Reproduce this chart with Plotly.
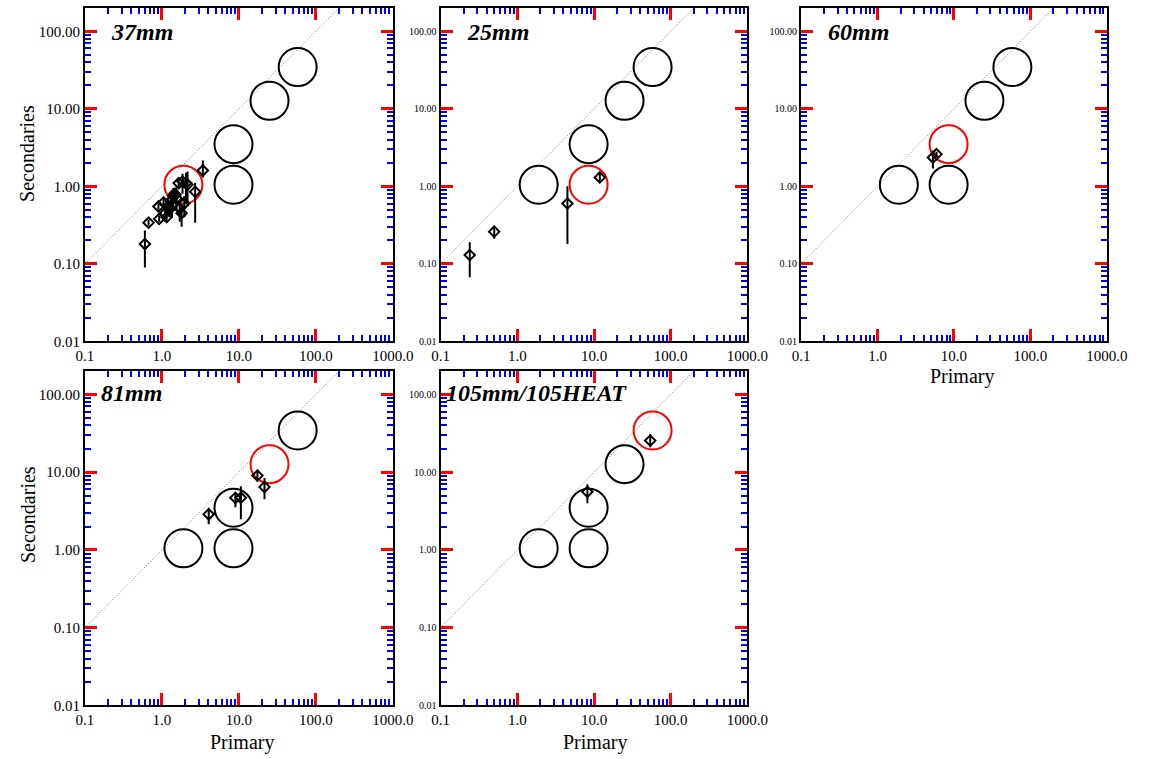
import plotly.graph_objects as go

# Reference (model) points shared by every panel
ref_x = [1.9, 8.5, 8.5, 25.0, 58.0]
ref_y = [1.05, 1.05, 3.5, 12.7, 34.5]

# 37mm measurements
x_37 = [0.60, 0.67, 0.90, 0.92, 1.05, 1.10, 1.15, 1.20, 1.25, 1.30, 1.35, 1.40,
        1.45, 1.50, 1.55, 1.65, 1.70, 1.80, 1.85, 1.95, 2.05, 2.15, 2.70, 3.40]
y_37 = [0.18, 0.34, 0.55, 0.38, 0.62, 0.45, 0.40, 0.55, 0.50, 0.65, 0.58, 0.75,
        0.80, 0.78, 0.70, 1.10, 0.52, 0.45, 1.15, 0.60, 1.10, 1.05, 0.85, 1.60]
hi_37 = [0.27, 0.37, 0.60, 0.42, 0.70, 0.52, 0.45, 0.68, 0.62, 0.85, 0.75, 0.95,
         0.90, 0.88, 1.00, 1.20, 0.60, 0.55, 1.45, 0.75, 1.50, 1.55, 1.10, 2.15]
lo_37 = [0.09, 0.31, 0.50, 0.35, 0.55, 0.40, 0.35, 0.42, 0.40, 0.45, 0.40, 0.55,
         0.62, 0.70, 0.48, 0.95, 0.35, 0.30, 0.80, 0.40, 0.60, 0.55, 0.34, 1.30]

# 25mm measurements
x_25 = [0.24, 0.50, 4.5, 11.9]
y_25 = [0.13, 0.26, 0.60, 1.30]
hi_25 = [0.19, 0.31, 1.00, 1.52]
lo_25 = [0.067, 0.21, 0.18, 1.10]

# 60mm measurements
x_60 = [5.3, 5.9]
y_60 = [2.35, 2.6]
hi_60 = [2.9, 2.8]
lo_60 = [1.7, 2.4]

# 81mm measurements
x_81 = [4.05, 9.0, 10.6, 17.4, 21.5]
y_81 = [2.87, 4.68, 4.70, 9.05, 6.45]
hi_81 = [3.5, 5.4, 6.6, 10.2, 8.4]
lo_81 = [2.14, 3.55, 2.48, 7.6, 4.5]

# 105mm / 105HEAT measurements
x_105 = [8.2, 54.0]
y_105 = [5.6, 25.5]
hi_105 = [7.0, 31.0]
lo_105 = [4.0, 21.0]

panel_names = ["37mm", "25mm", "60mm", "81mm", "105mm/105HEAT"]
panel_x = [x_37, x_25, x_60, x_81, x_105]
panel_y = [y_37, y_25, y_60, y_81, y_105]
panel_hi = [hi_37, hi_25, hi_60, hi_81, hi_105]
panel_lo = [lo_37, lo_25, lo_60, lo_81, lo_105]
highlight = [0, 1, 2, 3, 4]

# major ticks (labels formatted as 0.1, 1.0, ... and 0.01, 0.10, ...)
x_tickvals = [0.1, 1, 10, 100, 1000]
y_tickvals = [0.01, 0.1, 1, 10, 100]

W, H = 1164, 759
FONT = "Liberation Serif"
X_RANGE = [-1, 3]
Y_RANGE = [-2, 2.30103]

# pixel boxes of the panels: (left, right) and (top, bottom)
col_px = [(78, 394), (443, 758), (813, 1127)]
row_px = [(8, 345), (375, 713)]
slots = [(0, 0), (0, 1), (0, 2), (1, 0), (1, 1)]
title_px = [(103, 32), (468, 32), (839, 32), (92, 397), (447, 397)]


def minor_vals(lo_exp, hi_exp, top):
    vals = []
    for e in range(lo_exp, hi_exp):
        for m in range(2, 10):
            v = round(m * 10 ** e, 6)
            if v <= top:
                vals.append(v)
    return vals


x_minor = minor_vals(-1, 3, 1000)
y_minor = minor_vals(-2, 3, 200)

fig = go.Figure()
layout = dict(
    width=W, height=H,
    margin=dict(l=0, r=0, t=0, b=0),
    paper_bgcolor="white", plot_bgcolor="white",
    showlegend=False,
)
annotations = []

for i, name in enumerate(panel_names):
    r, c = slots[i]
    xl, xr = col_px[c]
    yt, yb = row_px[r]
    ax = "" if i == 0 else str(i + 1)
    xa, ya = "x" + ax, "y" + ax

    # one-to-one line
    fig.add_trace(go.Scatter(
        x=[0.1, 200], y=[0.1, 200], mode="lines",
        line=dict(color="#777777", width=1, dash="1px,2px"),
        xaxis=xa, yaxis=ya, hoverinfo="skip"))

    # reference circles
    blk = [k for k in range(len(ref_x)) if k != highlight[i]]
    fig.add_trace(go.Scatter(
        x=[ref_x[k] for k in blk], y=[ref_y[k] for k in blk], mode="markers",
        marker=dict(symbol="circle-open", size=38, color="black",
                    line=dict(width=2, color="black")),
        xaxis=xa, yaxis=ya))
    h = highlight[i]
    fig.add_trace(go.Scatter(
        x=[ref_x[h]], y=[ref_y[h]], mode="markers",
        marker=dict(symbol="circle-open", size=38, color="red",
                    line=dict(width=2, color="red")),
        xaxis=xa, yaxis=ya))

    # measurements with error bars
    xs, ys = panel_x[i], panel_y[i]
    up = [hv - yv for hv, yv in zip(panel_hi[i], ys)]
    dn = [yv - lv for lv, yv in zip(panel_lo[i], ys)]
    fig.add_trace(go.Scatter(
        x=xs, y=ys, mode="markers",
        marker=dict(symbol="diamond-open", size=8, color="black",
                    line=dict(width=2, color="black")),
        error_y=dict(type="data", symmetric=False, array=up, arrayminus=dn,
                     width=0, thickness=2, color="black"),
        xaxis=xa, yaxis=ya))

    ytick_size = 15 if c == 0 else 10
    layout["xaxis" + ax] = dict(
        type="log", range=X_RANGE, anchor=ya,
        domain=[xl / W, xr / W],
        tickmode="array", tickvals=x_tickvals, tickformat=".1f",
        ticks="inside", ticklen=12, tickwidth=3, tickcolor="red",
        minor=dict(tickvals=x_minor, ticks="inside", ticklen=6,
                   tickwidth=2, tickcolor="blue"),
        showline=True, linewidth=2, linecolor="black", mirror="allticks",
        showgrid=False, zeroline=False,
        tickfont=dict(family=FONT, size=15, color="black"),
    )
    layout["yaxis" + ax] = dict(
        type="log", range=Y_RANGE, anchor=xa,
        domain=[1 - yb / H, 1 - yt / H],
        tickmode="array", tickvals=y_tickvals, tickformat=".2f",
        ticks="inside", ticklen=12, tickwidth=3, tickcolor="red",
        minor=dict(tickvals=y_minor, ticks="inside", ticklen=6,
                   tickwidth=2, tickcolor="blue"),
        showline=True, linewidth=2, linecolor="black", mirror="allticks",
        showgrid=False, zeroline=False,
        tickfont=dict(family=FONT, size=ytick_size, color="black"),
    )

    tx, ty = title_px[i]
    annotations.append(dict(
        text="<b><i>%s</i></b>" % name, x=tx / W, y=1 - ty / H,
        xref="paper", yref="paper", xanchor="left", yanchor="middle",
        showarrow=False, font=dict(family=FONT, size=24, color="black")))

# axis titles
for yc in (155, 520):
    annotations.append(dict(
        text="Secondaries", x=19 / W, y=1 - yc / H, xref="paper", yref="paper",
        xanchor="center", yanchor="middle", textangle=-90, showarrow=False,
        font=dict(family=FONT, size=20, color="black")))
for xc, yc in ((978, 381), (239, 750), (602, 750)):
    annotations.append(dict(
        text="Primary", x=xc / W, y=1 - yc / H, xref="paper", yref="paper",
        xanchor="center", yanchor="middle", showarrow=False,
        font=dict(family=FONT, size=20, color="black")))

layout["annotations"] = annotations
fig.update_layout(**layout)
fig.write_html("out.html")
